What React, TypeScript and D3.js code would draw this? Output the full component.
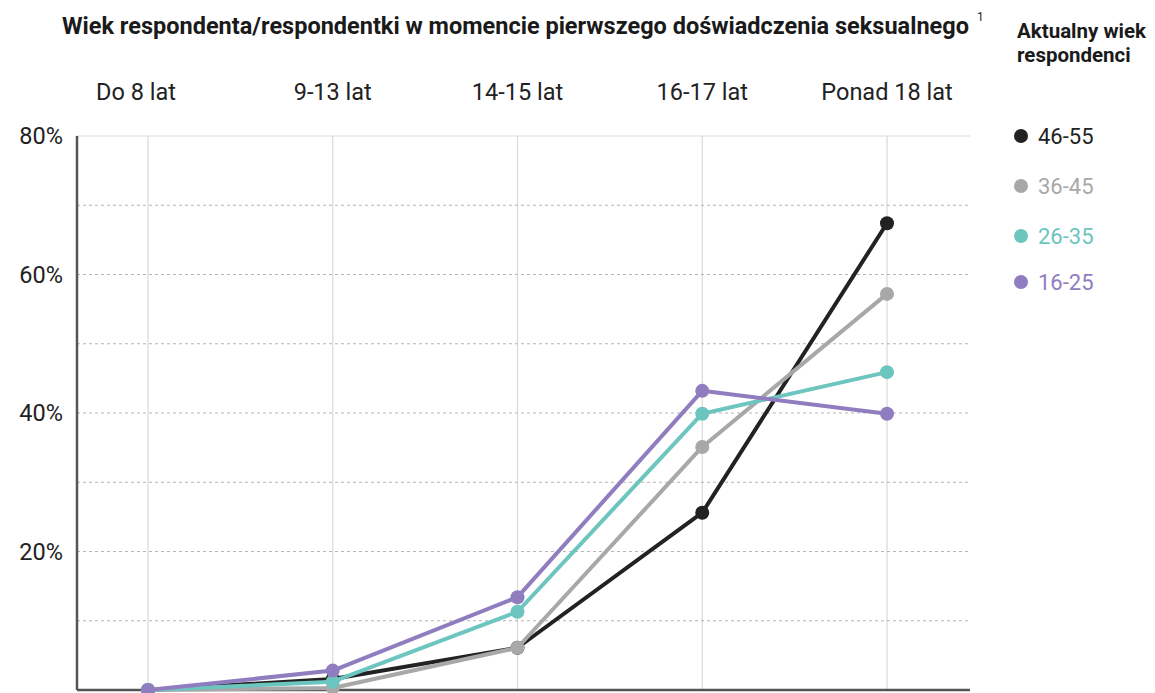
import React from "react";
import * as d3 from "d3";

const categories = ["Do 8 lat", "9-13 lat", "14-15 lat", "16-17 lat", "Ponad 18 lat"];
const seriesNames = ["46-55", "36-45", "26-35", "16-25"];
const seriesColors = ["#222222", "#a8a8a8", "#6cc5be", "#8f7dbf"];
const values46_55 = [0, 1.6, 6.1, 25.6, 67.4];
const values36_45 = [0, 0.3, 6.1, 35.1, 57.2];
const values26_35 = [0, 1.2, 11.3, 39.9, 45.9];
const values16_25 = [0, 2.8, 13.4, 43.2, 39.9];
const yTicks = [0, 20, 40, 60, 80];
const yGrid = [10, 20, 30, 40, 50, 60, 70];

const title = "Wiek respondenta/respondentki w momencie pierwszego doświadczenia seksualnego";
const legendTitle = ["Aktualny wiek", "respondenci"];

export default function App() {
  const W = 1155, H = 693;
  const left = 77, right = 970, top = 136, bottom = 690;
  const x = d3.scalePoint<string>().domain(categories).range([148, 887]);
  const y = d3.scaleLinear().domain([0, 80]).range([bottom, top]);
  const series = [values46_55, values36_45, values26_35, values16_25];
  const line = d3.line<number>().x((_, i) => x(categories[i])!).y((d) => y(d));
  const drawOrder = [0, 1, 2, 3];
  const font = "Roboto, 'Noto Sans', sans-serif";

  return (
    <svg width={W} height={H} style={{ position: "absolute", left: 0, top: 0, background: "#fff" }} fontFamily={font}>
      <text x={62} y={34} fontSize={23.5} fontWeight={700} fill="#1a1a1a">{title}</text>
      <text x={977} y={21} fontSize={12} fill="#1a1a1a">1</text>
      <text x={1017} y={38} fontSize={20.5} fontWeight={700} fill="#1a1a1a">{legendTitle[0]}</text>
      <text x={1017} y={62} fontSize={20.5} fontWeight={700} fill="#1a1a1a">{legendTitle[1]}</text>

      {categories.map((c) => (
        <text key={c} x={x(c)! - (c === "Do 8 lat" ? 12 : 0)} y={100} textAnchor="middle" fontSize={23.5} fill="#222">{c}</text>
      ))}

      {categories.map((c) => (
        <line key={"v" + c} x1={x(c)!} x2={x(c)!} y1={top} y2={bottom} stroke="#d9d9d9" strokeWidth={1.2} />
      ))}
      {yGrid.map((g) => (
        <line key={"h" + g} x1={left} x2={right} y1={y(g)} y2={y(g)} stroke="#b5b5b5" strokeWidth={1.2} strokeDasharray="3,3" />
      ))}
      <line x1={left} x2={right} y1={y(80)} y2={y(80)} stroke="#d9d9d9" strokeWidth={1.2} />

      {yTicks.filter((t) => t > 0).map((t) => (
        <text key={"t" + t} x={63} y={y(t) + 8} textAnchor="end" fontSize={23.5} fill="#222">{t}%</text>
      ))}

      <line x1={left} x2={left} y1={top} y2={bottom} stroke="#555" strokeWidth={2.5} />
      <line x1={left} x2={right} y1={bottom} y2={bottom} stroke="#555" strokeWidth={2.5} />

      {drawOrder.map((si) => (
        <g key={"s" + si}>
          <path d={line(series[si])!} fill="none" stroke={seriesColors[si]} strokeWidth={4} strokeLinejoin="round" />
          {series[si].map((v, i) => (
            <circle key={i} cx={x(categories[i])!} cy={y(v)} r={7} fill={seriesColors[si]} />
          ))}
        </g>
      ))}

      {seriesNames.map((n, i) => {
        const ly = [136, 186, 236, 282][i];
        return (
          <g key={n}>
            <circle cx={1021} cy={ly} r={7} fill={seriesColors[i]} />
            <text x={1038} y={ly + 8} fontSize={22} fill={seriesColors[i]}>{n}</text>
          </g>
        );
      })}
    </svg>
  );
}
